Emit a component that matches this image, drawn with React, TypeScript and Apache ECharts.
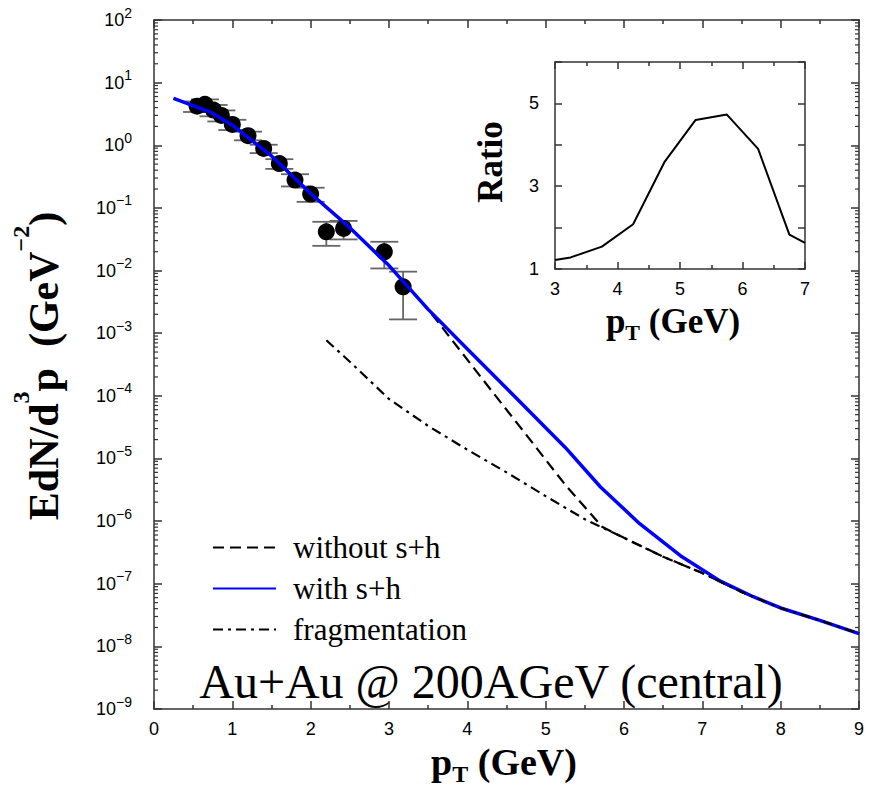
import React, { useEffect, useRef } from "react";
import * as echarts from "echarts";

// ---- data ----
const pointX = [0.55, 0.65, 0.76, 0.86, 1.0, 1.2, 1.4, 1.6, 1.8, 2.0, 2.2, 2.42, 2.94, 3.18];
const pointY = [4.2, 4.5, 3.65, 3.0, 2.15, 1.42, 0.89, 0.51, 0.278, 0.166, 0.0416, 0.047, 0.0199, 0.0055];
const pointLo = [3.4, 3.6, 2.9, 2.4, 1.75, 1.2, 0.75, 0.42, 0.22, 0.125, 0.0248, 0.0314, 0.0108, 0.00166];
const pointHi = [5.0, 5.4, 4.4, 3.6, 2.55, 1.65, 1.02, 0.6, 0.345, 0.21, 0.06, 0.062, 0.0288, 0.0096];

const withX = [0.25, 0.72, 1.0, 1.5, 2.0, 2.5, 3.0, 3.5, 4.0, 4.5, 5.0, 5.25, 5.7, 6.2, 6.72, 7.23, 7.65, 8.0, 8.5, 9.0];
const withY = [5.62, 3.39, 2.09, 0.676, 0.17, 0.0484, 0.012, 0.0024, 5.6e-4, 1.32e-4, 3.1e-5, 1.5e-5, 3.5e-6, 9.1e-7, 2.8e-7, 1.1e-7, 6.2e-8, 4.1e-8, 2.6e-8, 1.6e-8];

const withoutX = [0.25, 0.72, 1.0, 1.5, 2.0, 2.5, 3.0, 3.5, 3.75, 4.25, 4.75, 5.25, 5.72, 6.0, 6.5, 7.0, 7.5, 8.0, 8.5, 9.0];
const withoutY = [5.62, 3.39, 2.09, 0.676, 0.17, 0.0484, 0.012, 0.0024, 9.5e-4, 1.5e-4, 2.4e-5, 3.8e-6, 8.1e-7, 5.4e-7, 2.7e-7, 1.48e-7, 7.4e-8, 4.1e-8, 2.6e-8, 1.6e-8];

const fragX = [2.2, 2.5, 3.0, 3.5, 4.0, 4.5, 5.0, 5.5, 6.0, 6.5, 7.0, 7.5, 8.0, 8.5, 9.0];
const fragY = [7.7e-4, 3.5e-4, 8.9e-5, 3.3e-5, 1.38e-5, 6.0e-6, 2.5e-6, 1.07e-6, 5.4e-7, 2.7e-7, 1.48e-7, 7.4e-8, 4.1e-8, 2.6e-8, 1.6e-8];

const ratioX = [3.0, 3.25, 3.75, 4.25, 4.75, 5.25, 5.75, 6.25, 6.75, 7.0];
const ratioY = [1.22, 1.28, 1.54, 2.08, 3.58, 4.6, 4.73, 3.9, 1.83, 1.63];

const legendNames = ["without s+h", "with s+h", "fragmentation"];
const insetYLabels = [1, 3, 5];
const annotation = "Au+Au @ 200AGeV (central)";

// minor tick positions of the log axis (2..9 in every decade)
const minorLogTicks: number[] = [];
for (let e = -9; e < 2; e++) for (let k = 2; k <= 9; k++) minorLogTicks.push(k * Math.pow(10, e));

const SANS = "Liberation Sans";
const SERIF = "Liberation Serif";
const AX = { color: "#333", width: 1.5 };

function frameAxis(extra: any) {
  return {
    axisLine: { show: true, onZero: false, lineStyle: AX },
    splitLine: { show: false },
    minorSplitLine: { show: false },
    ...extra,
  };
}

export default function App() {
  const ref = useRef<HTMLDivElement>(null);
  useEffect(() => {
    const chart = echarts.init(ref.current!, null, { renderer: "svg" });
    const supExp = (v: number) => {
      const e = Math.round(Math.log10(v));
      const s = e < 0 ? "\u2212" + -e : String(e);
      return `{b|10}{s|${s}}`;
    };
    const option: any = {
      animation: false,
      backgroundColor: "#fff",
      grid: [
        { left: 154, right: 15, top: 20, bottom: 84, outerBoundsMode: "none" },
        { left: 555, top: 62, width: 250, height: 207, outerBoundsMode: "none" },
      ],
      xAxis: [
        frameAxis({
          type: "value", gridIndex: 0, min: 0, max: 9, interval: 1, position: "bottom",
          axisTick: { show: true, inside: true, length: 8, lineStyle: AX },
          minorTick: { show: true, splitNumber: 2, length: 4, lineStyle: AX },
          axisLabel: { fontSize: 18, fontFamily: SANS, color: "#000", margin: 11 },
        }),
        frameAxis({
          type: "value", gridIndex: 0, min: 0, max: 9, interval: 1, position: "top",
          axisTick: { show: true, inside: true, length: 8, lineStyle: AX },
          minorTick: { show: true, splitNumber: 2, length: 4, lineStyle: AX },
          axisLabel: { show: false },
        }),
        frameAxis({
          type: "value", gridIndex: 1, min: 3, max: 7, interval: 1, position: "bottom",
          axisTick: { show: true, inside: true, length: 7, lineStyle: AX },
          minorTick: { show: true, splitNumber: 2, length: 4, lineStyle: AX },
          axisLabel: { fontSize: 18, fontFamily: SANS, color: "#000", margin: 11 },
        }),
        frameAxis({
          type: "value", gridIndex: 1, min: 3, max: 7, interval: 1, position: "top",
          axisTick: { show: true, inside: true, length: 7, lineStyle: AX },
          minorTick: { show: true, splitNumber: 2, length: 4, lineStyle: AX },
          axisLabel: { show: false },
        }),
      ],
      yAxis: [
        frameAxis({
          type: "log", logBase: 10, gridIndex: 0, min: 1e-9, max: 100, interval: 1, splitNumber: 11, position: "left",
          axisTick: { show: true, inside: true, length: 8, lineStyle: AX },
          axisLabel: {
            margin: 22,
            formatter: supExp,
            rich: {
              b: { fontSize: 18, fontFamily: SANS, color: "#000" },
              s: { fontSize: 14, fontFamily: SANS, color: "#000", padding: [0, 0, 15, 0] },
            },
          },
        }),
        frameAxis({
          type: "log", logBase: 10, gridIndex: 0, min: 1e-9, max: 100, interval: 1, splitNumber: 11, position: "right",
          axisTick: { show: true, inside: true, length: 8, lineStyle: AX },
          axisLabel: { show: false },
        }),
        frameAxis({
          type: "value", gridIndex: 1, min: 1, max: 6, interval: 1, position: "left",
          axisTick: { show: true, inside: true, length: 7, lineStyle: AX },
          axisLabel: {
            fontSize: 18, fontFamily: SANS, color: "#000", margin: 16,
            formatter: (v: number) => (insetYLabels.indexOf(v) >= 0 ? String(v) : ""),
          },
        }),
        frameAxis({
          type: "value", gridIndex: 1, min: 1, max: 6, interval: 1, position: "right",
          axisTick: { show: true, inside: true, length: 7, lineStyle: AX },
          axisLabel: { show: false },
        }),
      ],
      legend: {
        data: legendNames,
        orient: "vertical",
        left: 207,
        top: 522,
        itemWidth: 63,
        itemHeight: 14,
        itemGap: 0,
        selectedMode: false,
        itemStyle: { opacity: 0 },
        textStyle: { fontFamily: SERIF, fontSize: 31, color: "#000", lineHeight: 41, padding: [0, 0, 0, 12] },
      },
      series: [
        {
          type: "custom", name: "minorTicks", xAxisIndex: 0, yAxisIndex: 0, silent: true, z: 3,
          data: minorLogTicks.map((v) => [0, v]),
          encode: { x: 0, y: 1 },
          renderItem: (_p: any, api: any) => {
            const v = api.value(1);
            const l = api.coord([0, v]);
            const r = api.coord([9, v]);
            return {
              type: "group",
              children: [
                { type: "line", shape: { x1: l[0], y1: l[1], x2: l[0] + 4, y2: l[1] }, style: { stroke: "#333", lineWidth: 1.2 } },
                { type: "line", shape: { x1: r[0] - 4, y1: r[1], x2: r[0], y2: r[1] }, style: { stroke: "#333", lineWidth: 1.2 } },
              ],
            };
          },
        },
        {
          type: "custom", name: "errors", xAxisIndex: 0, yAxisIndex: 0, silent: true,
          data: pointX.map((x, i) => [x, pointLo[i], pointHi[i]]),
          encode: { x: 0, y: [1, 2] },
          renderItem: (_p: any, api: any) => {
            const x = api.value(0);
            const lo = api.coord([x, api.value(1)]);
            const hi = api.coord([x, api.value(2)]);
            const w = 14;
            const st = { stroke: "#666", lineWidth: 1.8 };
            return {
              type: "group",
              children: [
                { type: "line", shape: { x1: lo[0], y1: lo[1], x2: hi[0], y2: hi[1] }, style: st },
                { type: "line", shape: { x1: lo[0] - w, y1: lo[1], x2: lo[0] + w, y2: lo[1] }, style: st },
                { type: "line", shape: { x1: hi[0] - w, y1: hi[1], x2: hi[0] + w, y2: hi[1] }, style: st },
              ],
            };
          },
        },
        {
          type: "scatter", name: "data", xAxisIndex: 0, yAxisIndex: 0, symbol: "circle", symbolSize: 17,
          itemStyle: { color: "#000", opacity: 1 },
          data: pointX.map((x, i) => [x, pointY[i]]),
        },
        {
          type: "line", name: legendNames[0], xAxisIndex: 0, yAxisIndex: 0, symbol: "none",
          lineStyle: { color: "#000", width: 2.2, type: [11, 6] }, itemStyle: { color: "#000" },
          data: withoutX.map((x, i) => [x, withoutY[i]]),
        },
        {
          type: "line", name: legendNames[1], xAxisIndex: 0, yAxisIndex: 0, symbol: "none",
          lineStyle: { color: "#0000ff", width: 3.5 }, itemStyle: { color: "#0000ff" },
          data: withX.map((x, i) => [x, withY[i]]),
        },
        {
          type: "line", name: legendNames[2], xAxisIndex: 0, yAxisIndex: 0, symbol: "none",
          lineStyle: { color: "#000", width: 2.2, type: [10, 5, 3, 5] }, itemStyle: { color: "#000" },
          data: fragX.map((x, i) => [x, fragY[i]]),
        },
        {
          type: "line", name: "ratio", xAxisIndex: 2, yAxisIndex: 2, symbol: "none",
          lineStyle: { color: "#000", width: 2 },
          data: ratioX.map((x, i) => [x, ratioY[i]]),
        },
      ],
      graphic: [
        {
          type: "text", x: 504, y: 762,
          style: {
            text: "{a|p}{b|T}{a| (GeV)}",
            rich: {
              a: { fontSize: 38, fontWeight: "bold", fontFamily: SERIF, fill: "#000" },
              b: { fontSize: 24, fontWeight: "bold", fontFamily: SERIF, fill: "#000", padding: [24, 0, 0, 0] },
            },
            align: "center", verticalAlign: "middle",
          },
        },
        {
          type: "text", x: 44, y: 366, rotation: Math.PI / 2,
          style: {
            text: "{a|EdN/d}{s|3}{a|p  (GeV}{s|\u22122}{a|)}",
            rich: {
              a: { fontSize: 42, fontWeight: "bold", fontFamily: SERIF, fill: "#000" },
              s: { fontSize: 24, fontWeight: "bold", fontFamily: SERIF, fill: "#000", padding: [0, 0, 46, 0] },
            },
            align: "center", verticalAlign: "middle",
          },
        },
        {
          type: "text", x: 490, y: 162, rotation: Math.PI / 2,
          style: { text: "Ratio", fontSize: 35, fontWeight: "bold", fontFamily: SERIF, fill: "#000", align: "center", verticalAlign: "middle" },
        },
        {
          type: "text", x: 673, y: 321,
          style: {
            text: "{a|p}{b|T}{a| (GeV)}",
            rich: {
              a: { fontSize: 35, fontWeight: "bold", fontFamily: SERIF, fill: "#000" },
              b: { fontSize: 22, fontWeight: "bold", fontFamily: SERIF, fill: "#000", padding: [22, 0, 0, 0] },
            },
            align: "center", verticalAlign: "middle",
          },
        },
        {
          type: "text", x: 491, y: 681,
          style: { text: annotation, fontSize: 48, fontFamily: SERIF, fill: "#000", align: "center", verticalAlign: "middle" },
        },
      ],
    };
    chart.setOption(option);
    return () => chart.dispose();
  }, []);
  return (
    <div
      ref={ref}
      style={{ position: "fixed", left: 0, top: 0, width: 874, height: 793, background: "#fff" }}
    />
  );
}
